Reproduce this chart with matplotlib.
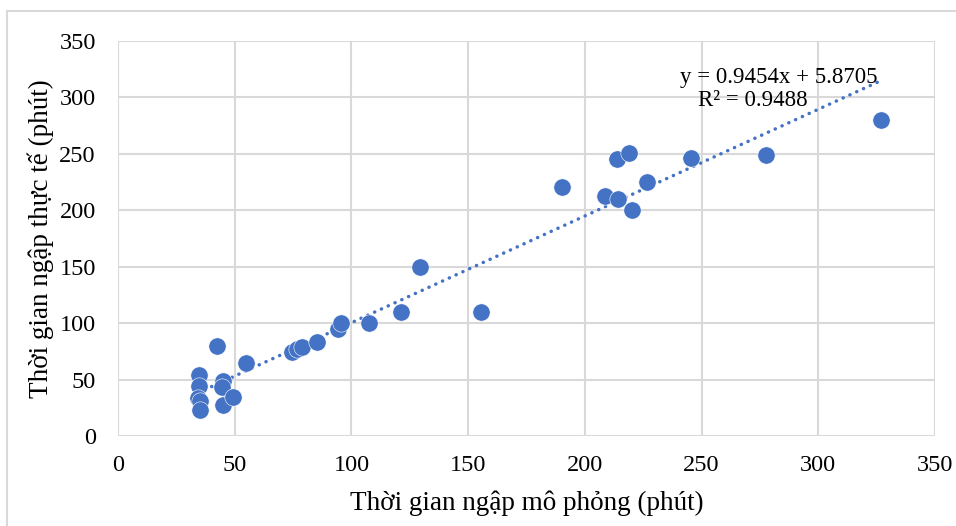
import numpy as np
import matplotlib
matplotlib.use("Agg")
import matplotlib.pyplot as plt
from matplotlib.patches import Rectangle

plt.rcParams['font.family'] = ['Liberation Serif', 'DejaVu Serif']

# thoi gian ngap mo phong (x) va thuc te (y), phut
mo_phong = [34.7, 34.7, 34.3, 35.1, 35.1, 42.4, 45.0, 44.6, 45.0, 49.3,
            54.8, 74.5, 76.7, 78.8, 85.3, 94.3, 95.5, 107.5, 121.3, 129.4,
            155.5, 190.2, 208.7, 213.8, 214.2, 218.9, 220.2, 226.6, 245.5,
            277.6, 326.9]
thuc_te = [54, 44.3, 33.7, 31, 23, 79.7, 48.7, 43.4, 27.5, 34.6,
           64.7, 74.4, 77, 78.9, 83.3, 94.8, 100, 100, 109.9, 149.7,
           109.9, 220.6, 212.6, 245.4, 210, 250.8, 200.2, 225, 246.3,
           249, 280]

# he so duong xu huong
a, b = 0.9454, 5.8705
pt_text = 'y = 0.9454x + 5.8705'
r2_text = 'R² = 0.9488'

mau = '#4472C4'
luoi = '#D9D9D9'

fig = plt.figure(figsize=(9.56, 5.26), dpi=100)
ax = fig.add_axes([118/956, 90/526, 817/956, 395/526])

# khung bieu do
fig.patches.append(Rectangle((7/956, -0.1), 1.2, (526-11)/526 + 0.1,
                             transform=fig.transFigure, fill=False,
                             edgecolor=luoi, linewidth=1.5))

ax.scatter(mo_phong, thuc_te, s=155, color=mau, edgecolors='white',
           linewidths=0.4, zorder=3)

xt = np.array([min(mo_phong), max(mo_phong)])
ax.plot(xt, a * xt + b, color=mau, linestyle=(0, (0.05, 2.1)),
        linewidth=2.5, dash_capstyle='round', zorder=2)

ax.text(680/956, 1 - 77/526, pt_text, transform=fig.transFigure,
        ha='left', va='center', fontsize=16.5, zorder=4)
ax.text(698/956, 1 - 101/526, r2_text, transform=fig.transFigure,
        ha='left', va='center', fontsize=16.5, zorder=4)

ax.set_xlim(0, 350)
ax.set_ylim(0, 350)
ax.set_xticks(range(0, 351, 50))
ax.set_yticks(range(0, 351, 50))
ax.grid(True, color=luoi, linewidth=1.5)
ax.set_axisbelow(True)
for s in ax.spines.values():
    s.set_visible(False)
ax.tick_params(length=0, labelsize=17.5, pad=14)
ax.tick_params(axis='y', pad=16)

ax.set_xlabel('Thời gian ngập mô phỏng (phút)', fontsize=19.5, labelpad=10)
ax.set_ylabel('Thời gian ngập thực tế (phút)', fontsize=19.5, labelpad=4)

fig.savefig('out.png', dpi=100)
